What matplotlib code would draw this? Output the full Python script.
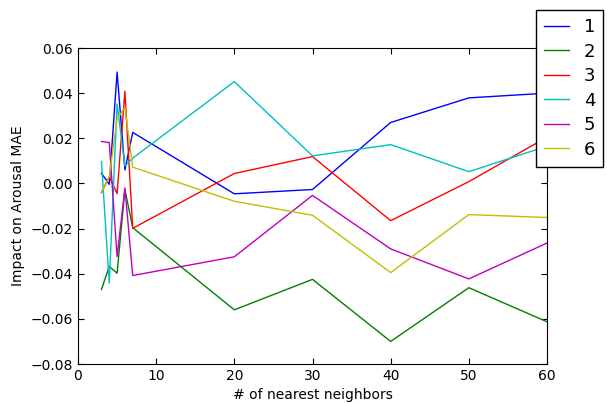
import matplotlib
matplotlib.use("Agg")
import matplotlib.pyplot as plt

# number of nearest neighbours on the x axis
k = [3, 4, 5, 6, 7, 20, 30, 40, 50, 60]

# impact on arousal MAE, one series per run
s1 = [0.0045, -0.0004, 0.0493, 0.006, 0.0226, -0.0046, -0.0027, 0.027, 0.0379, 0.040]
s2 = [-0.047, -0.0368, -0.0398, -0.0027, -0.0196, -0.056, -0.0425, -0.070, -0.0462, -0.0613]
s3 = [-0.0041, 0.003, -0.0045, 0.0408, -0.0199, 0.0044, 0.0119, -0.0165, 0.0008, 0.0205]
s4 = [0.0097, -0.0442, 0.0352, 0.0077, 0.0112, 0.0451, 0.0122, 0.0172, 0.0052, 0.0165]
s5 = [0.0186, 0.0181, -0.0324, -0.002, -0.0408, -0.0325, -0.0053, -0.029, -0.0423, -0.0264]
s6 = [-0.0041, 0.003, 0.0286, 0.0337, 0.0072, -0.0079, -0.0141, -0.0395, -0.0138, -0.0151]

series = [s1, s2, s3, s4, s5, s6]
labels = ["1", "2", "3", "4", "5", "6"]
colors = ["b", "g", "r", "c", "m", "y"]

plt.rcParams["font.family"] = "DejaVu Sans"
plt.rcParams["font.size"] = 10

fig = plt.figure(figsize=(6.07, 4.03), dpi=100)
ax = fig.add_axes([78 / 607, 1 - 364 / 403, 469 / 607, 316 / 403])

for vals, lab, c in zip(series, labels, colors):
    ax.plot(k, vals, color=c, label=lab, linewidth=1)

ax.set_xlim(0, 60)
ax.set_ylim(-0.08, 0.06)
ax.set_xticks([0, 10, 20, 30, 40, 50, 60])
ax.set_yticks([-0.08, -0.06, -0.04, -0.02, 0.0, 0.02, 0.04, 0.06])
ax.set_yticklabels(["\u22120.08", "\u22120.06", "\u22120.04", "\u22120.02",
                    "0.00", "0.02", "0.04", "0.06"])
ax.tick_params(direction="in", top=True, right=True, length=4)
ax.set_xlabel("# of nearest neighbors")
ax.set_ylabel("Impact on Arousal MAE")

leg = fig.legend(loc="upper left", bbox_to_anchor=(536 / 607, 1 - 10 / 403),
                 fontsize=13, frameon=True, fancybox=False, framealpha=1,
                 handlelength=1.4, labelspacing=0.36, borderpad=0.45,
                 handletextpad=0.8, borderaxespad=0)
leg.get_frame().set_edgecolor("black")
leg.get_frame().set_linewidth(1)

fig.savefig("out.png", dpi=100, facecolor="white")
